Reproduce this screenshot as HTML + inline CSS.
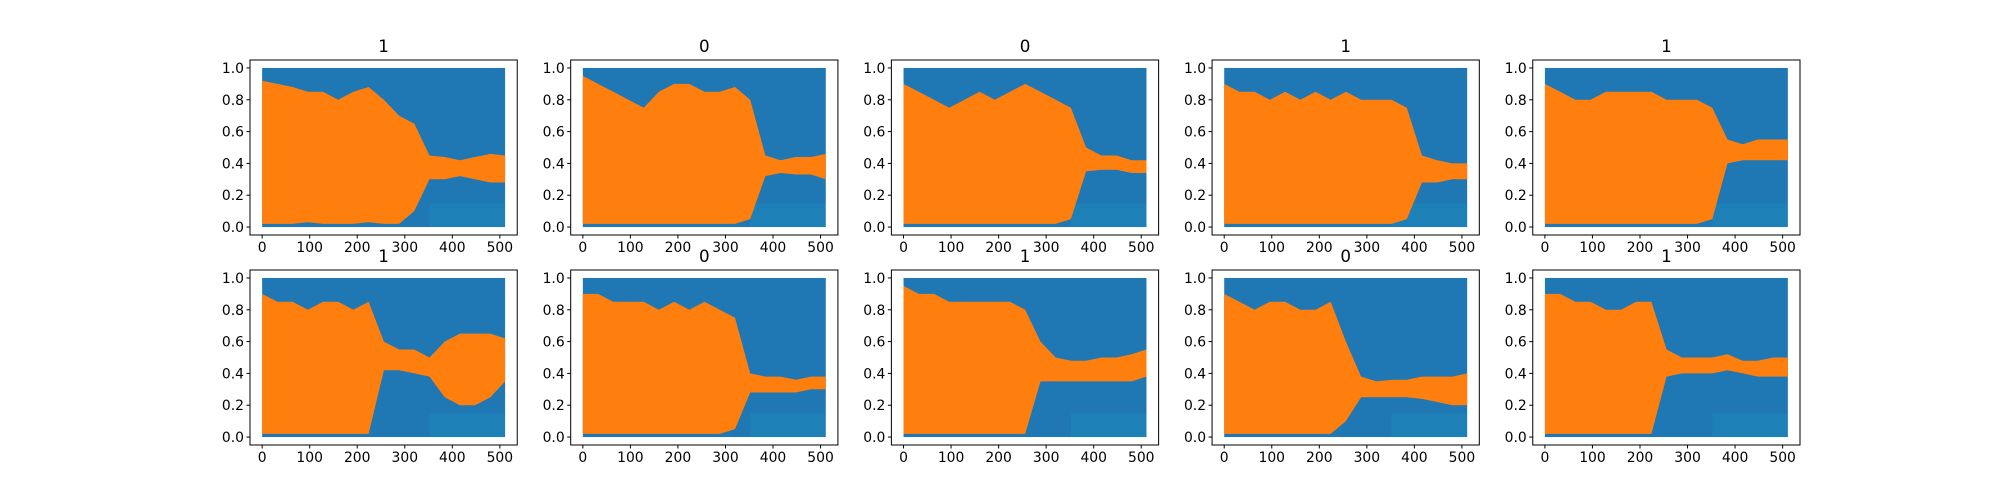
<!DOCTYPE html>
<html><head><meta charset="utf-8"><style>
html,body{margin:0;padding:0;background:#fff}
svg{display:block;font-family:"DejaVu Sans","Liberation Sans",sans-serif}
</style></head><body>
<svg id="fig" width="2000" height="500" xmlns="http://www.w3.org/2000/svg"></svg>
<script>
const titles = ["1","0","0","1","1","1","0","1","0","1"];
const sampleX = [0,32,64,96,128,160,192,224,256,288,320,352,384,416,448,480,511];
const upper1 = [.92,.9,.88,.85,.85,.8,.85,.88,.8,.7,.65,.45,.44,.42,.44,.46,.45];
const lower1 = [.02,.02,.02,.03,.02,.02,.02,.03,.02,.02,.1,.3,.3,.32,.3,.28,.28];
const upper2 = [.95,.9,.85,.8,.75,.85,.9,.9,.85,.85,.88,.8,.45,.42,.44,.44,.46];
const lower2 = [.02,.02,.02,.02,.02,.02,.02,.02,.02,.02,.02,.05,.32,.34,.33,.33,.3];
const upper3 = [.9,.85,.8,.75,.8,.85,.8,.85,.9,.85,.8,.75,.5,.45,.45,.42,.42];
const lower3 = [.02,.02,.02,.02,.02,.02,.02,.02,.02,.02,.02,.05,.35,.36,.36,.34,.34];
const upper4 = [.9,.85,.85,.8,.85,.8,.85,.8,.85,.8,.8,.8,.75,.45,.42,.4,.4];
const lower4 = [.02,.02,.02,.02,.02,.02,.02,.02,.02,.02,.02,.02,.05,.28,.28,.3,.3];
const upper5 = [.9,.85,.8,.8,.85,.85,.85,.85,.8,.8,.8,.75,.55,.52,.55,.55,.55];
const lower5 = [.02,.02,.02,.02,.02,.02,.02,.02,.02,.02,.02,.05,.4,.42,.42,.42,.42];
const upper6 = [.9,.85,.85,.8,.85,.85,.8,.85,.6,.55,.55,.5,.6,.65,.65,.65,.62];
const lower6 = [.02,.02,.02,.02,.02,.02,.02,.02,.42,.42,.4,.38,.25,.2,.2,.25,.35];
const upper7 = [.9,.9,.85,.85,.85,.8,.85,.8,.85,.8,.75,.4,.38,.38,.36,.38,.38];
const lower7 = [.02,.02,.02,.02,.02,.02,.02,.02,.02,.02,.05,.28,.28,.28,.28,.3,.3];
const upper8 = [.95,.9,.9,.85,.85,.85,.85,.85,.8,.6,.5,.48,.48,.5,.5,.52,.55];
const lower8 = [.02,.02,.02,.02,.02,.02,.02,.02,.02,.35,.35,.35,.35,.35,.35,.35,.38];
const upper9 = [.9,.85,.8,.85,.85,.8,.8,.85,.6,.38,.35,.36,.36,.38,.38,.38,.4];
const lower9 = [.02,.02,.02,.02,.02,.02,.02,.02,.1,.25,.25,.25,.25,.24,.22,.2,.2];
const upper10 = [.9,.9,.85,.85,.8,.8,.85,.85,.55,.5,.5,.5,.52,.48,.48,.5,.5];
const lower10 = [.02,.02,.02,.02,.02,.02,.02,.02,.38,.4,.4,.4,.42,.4,.38,.38,.38];
const uppers = [upper1,upper2,upper3,upper4,upper5,upper6,upper7,upper8,upper9,upper10];
const lowers = [lower1,lower2,lower3,lower4,lower5,lower6,lower7,lower8,lower9,lower10];
const xTicks = [0,100,200,300,400,500];
const yTicks = [0.0,0.2,0.4,0.6,0.8,1.0];

const NS = "http://www.w3.org/2000/svg";
const svg = document.getElementById('fig');
function mk(tag, attrs, parent){const e=document.createElementNS(NS,tag);for(const k in attrs)e.setAttribute(k,attrs[k]);(parent||svg).appendChild(e);return e;}

const L=250, W=267.24, GX=53.45, H=175, tops=[60,270];
const xmin=-25.55, xmax=536.55, ymin=-0.05, ymax=1.05;

for(let i=0;i<10;i++){
  const r=Math.floor(i/5), c=i%5;
  const x0=L+c*(W+GX), y0=tops[r];
  const sx=v=>x0+(v-xmin)/(xmax-xmin)*W;
  const sy=v=>y0+H-(v-ymin)/(ymax-ymin)*H;
  const g=mk('g',{});
  
  
  const bg=mk('rect',{x:sx(0),y:sy(1),width:sx(511)-sx(0),height:sy(0)-sy(1),fill:'#1f77b4'},g);
  
  
  const cy=mk('rect',{x:sx(sampleX[11]),y:sy(0.15),width:sx(511)-sx(sampleX[11]),height:sy(0)-sy(0.15),fill:'#17becf',opacity:0.15},g);
  
  
  const up=uppers[i], lo=lowers[i];
  let pts=[];
  for(let k=0;k<sampleX.length;k++)pts.push(sx(sampleX[k]).toFixed(1)+','+sy(up[k]).toFixed(1));
  for(let k=sampleX.length-1;k>=0;k--)pts.push(sx(sampleX[k]).toFixed(1)+','+sy(lo[k]).toFixed(1));
  const poly=mk('polygon',{points:pts.join(' '),fill:'#ff7f0e'},g);
  
  
  const fr=mk('rect',{x:x0,y:y0,width:W,height:H,fill:'none',stroke:'#000','stroke-width':1},g);
  
  
  xTicks.forEach(t=>{
    mk('line',{x1:sx(t),x2:sx(t),y1:y0+H,y2:y0+H+3.5,stroke:'#000'},g);
    const tx=mk('text',{x:sx(t),y:y0+H+17,'text-anchor':'middle','font-size':'13.9px',fill:'#000'},g);
    tx.textContent=t;
    
    
  });
  yTicks.forEach(t=>{
    mk('line',{x1:x0-3.5,x2:x0,y1:sy(t),y2:sy(t),stroke:'#000'},g);
    const tx=mk('text',{x:x0-6,y:sy(t)+5,'text-anchor':'end','font-size':'13.9px',fill:'#000'},g);
    tx.textContent=t.toFixed(1);
    
    
  });
  const tt=mk('text',{x:x0+W/2,y:y0-8,'text-anchor':'middle','font-size':'16.7px',fill:'#000'},g);
  tt.textContent=titles[i];
  
  
}
</script>
</body></html>
